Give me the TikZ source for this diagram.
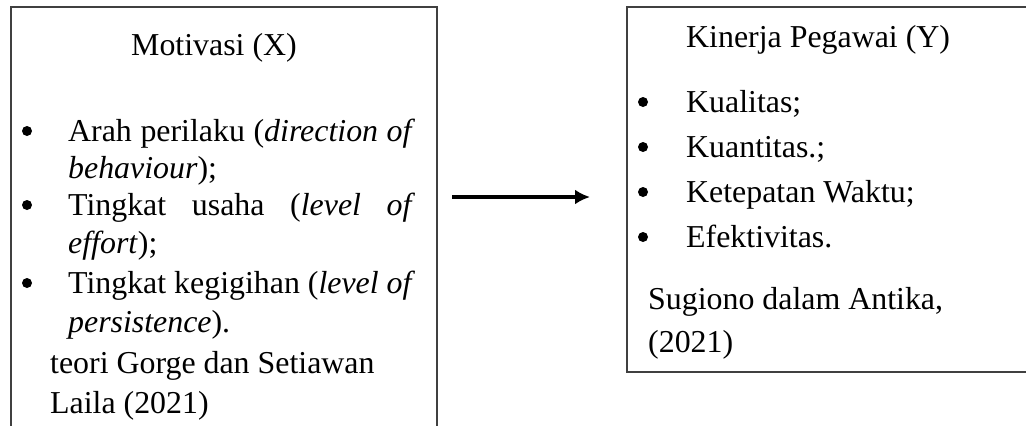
\documentclass[tikz,border=0pt]{standalone}
\usepackage{fontspec}
\setmainfont{Liberation Serif}
\usetikzlibrary{arrows.meta}
\begin{document}
\begin{tikzpicture}[x=1bp,y=-1bp]
    \tikzset{box/.style = {draw=black!75, line width=1.6bp}}
    \tikzset{txt/.style = {anchor=base west, inner sep=0pt, font=\fontsize{32}{38}\selectfont}}
    \tikzset{dot/.style = {circle, fill=black, inner sep=0pt, minimum size=10bp}}
    \tikzset{edge/.style = {-{Latex[length=15bp,width=15bp]}, line width=4bp}}

    \useasboundingbox (0,0) rectangle (1026,425);

    \draw[box] (11,440) -- (11,7) -- (437,7) -- (437,440);
    \draw[box] (627,7) rectangle (1040,372);

    \node[txt] (judulX) at (131,55) {Motivasi (X)};
    \node[dot] (bX1) at (27,131) {};
    \node[dot] (bX2) at (27,205) {};
    \node[dot] (bX3) at (27,283) {};
    \node[txt] (arah) at (68,141) {\hbox to 347bp{Arah perilaku (\textit{direction of}}};
    \node[txt] (arahB) at (68,178) {\textit{behaviour});};
    \node[txt] (usaha) at (68,215) {\hbox to 347bp{Tingkat\hfill usaha\hfill (\textit{level}\hfill\textit{of}}};
    \node[txt] (usahaB) at (68,253) {\textit{effort});};
    \node[txt] (gigih) at (68,293) {\hbox to 347bp{Tingkat kegigihan (\textit{level of}}};
    \node[txt] (gigihB) at (68,332) {\textit{persistence}).};
    \node[txt] (sumberX) at (50,373) {teori Gorge dan Setiawan};
    \node[txt] (sumberXB) at (50,413) {Laila (2021)};

    \node[txt] (judulY) at (686,47) {Kinerja Pegawai (Y)};
    \node[dot] (bY1) at (643,102) {};
    \node[dot] (bY2) at (643,147) {};
    \node[dot] (bY3) at (643,192) {};
    \node[dot] (bY4) at (643,237) {};
    \node[txt] (kualitas) at (686,112) {Kualitas;};
    \node[txt] (kuantitas) at (686,157) {Kuantitas.;};
    \node[txt] (waktu) at (686,202) {Ketepatan Waktu;};
    \node[txt] (efektif) at (686,247) {Efektivitas.};
    \node[txt] (sumberY) at (648,309) {Sugiono dalam Antika,};
    \node[txt] (sumberYB) at (648,352) {(2021)};

    \coordinate (pangkal) at (452,197);
    \coordinate (ujung) at (590,197);
    \draw[edge] (pangkal) -- (ujung);
\end{tikzpicture}
\end{document}
